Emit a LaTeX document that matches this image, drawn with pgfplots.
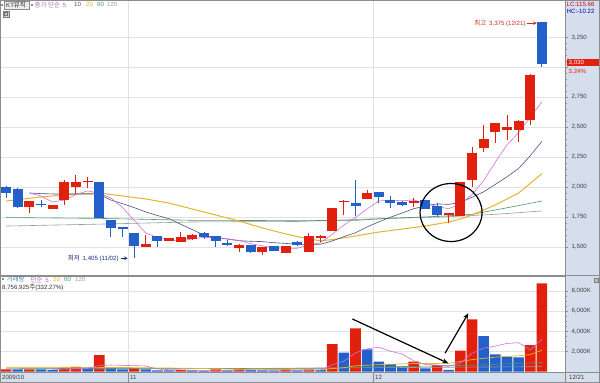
\documentclass[border=0pt]{standalone}
\usepackage{fontspec}
\setmainfont{Liberation Sans}
\newfontfamily\kr{Noto Sans CJK KR}
\usepackage{pgfplots}
\pgfplotsset{compat=1.18}
\usepackage{pgfplotstable}
\usetikzlibrary{arrows.meta}

\definecolor{cred}{HTML}{E2200E}
\definecolor{cblue}{HTML}{2360CC}
\definecolor{maA}{HTML}{D070D8}
\definecolor{maB}{HTML}{4A5088}
\definecolor{maC}{HTML}{E3B52A}
\definecolor{maD}{HTML}{4C9A6A}
\definecolor{maE}{HTML}{9A9A9A}
\definecolor{panel}{HTML}{D4DEEC}
\definecolor{gridc}{HTML}{E2E2E2}
\definecolor{frame}{HTML}{8C8C8C}
\definecolor{hitxt}{HTML}{C8301C}
\definecolor{lotxt}{HTML}{1C2A80}
\definecolor{teal}{HTML}{3F86A8}

\newcommand\tf{\fontsize{6.1}{7}\selectfont}
\newcommand\kf{\kr\fontsize{6.5}{7}\selectfont}

% candles: i open high low close
\pgfplotstableread{
i o h l c
2 1830 1886 1786 1886
4 1814 1850 1814 1850
5 1892 2060 1850 2044
6 2003 2100 1942 2044
7 2045 2086 1992 2052
12 1503 1600 1503 1525
14 1553 1572 1553 1572
15 1544 1627 1544 1586
16 1564 1610 1560 1597
20 1488 1520 1460 1518
22 1460 1496 1432 1496
24 1446 1505 1446 1505
26 1460 1619 1460 1591
27 1580 1600 1543 1591
28 1635 1822 1635 1822
29 1878 1892 1766 1886
31 1900 1975 1900 1947
35 1872 1905 1836 1880
38 1766 1780 1702 1780
39 1758 2044 1758 2044
40 2058 2337 1997 2281
41 2323 2518 2295 2398
42 2457 2537 2365 2537
43 2476 2601 2392 2498
44 2476 2560 2378 2554
45 2559 2940 2518 2935
}\redc

\pgfplotstableread{
i o h l c
0 2000 2005 1908 1950
1 1983 1990 1825 1830
3 1860 1890 1830 1852
8 2040 2045 1745 1745
9 1725 1725 1586 1656
10 1664 1664 1586 1647
11 1619 1619 1405 1508
13 1592 1592 1502 1553
17 1613 1625 1565 1585
18 1591 1591 1502 1552
19 1535 1555 1505 1520
21 1516 1516 1446 1460
23 1507 1507 1468 1468
25 1538 1549 1507 1518
30 1864 2058 1758 1841
32 1961 1961 1864 1919
33 1891 1925 1827 1864
34 1872 1880 1845 1852
36 1891 1891 1816 1816
37 1844 1864 1747 1766
46 3375 3375 3005 3030
}\bluec

\pgfplotsset{
  hts/.style={
    scale only axis, width=565pt,
    xmin=-0.515, xmax=47.98,
    axis line style={draw=frame, line width=0.6pt},
    ytick pos=right, yticklabel pos=right,
    tick align=outside, major tick length=3pt, minor tick length=1.5pt,
    tick style={draw=frame, line width=0.5pt},
    yticklabel style={font=\tf, text=black!75},
    /pgf/number format/1000 sep={,},
    /pgf/number format/assume math mode=true,
    scaled y ticks=false,
    xtick={10.5,31.5}, xticklabels={}, x tick style={draw=none},
    xmajorgrids, ymajorgrids,
    major grid style={draw=gridc, line width=0.6pt},
    clip=true,
  },
  wick/.style={draw=none, mark=none, error bars/.cd, y dir=both, y explicit,
    error mark=none, error bar style={draw=#1, line width=0.9pt}},
  body/.style={draw=none, mark=none, error bars/.cd, y dir=both, y explicit,
    error mark=none, error bar style={draw=#1, line width=10pt}},
}

\begin{document}
\begin{tikzpicture}
\useasboundingbox (0pt,0pt) rectangle (600pt,-383pt);
\fill[white] (0pt,0pt) rectangle (600pt,-383pt);
\fill[panel] (565pt,0pt) rectangle (600pt,-383pt);
\fill[panel] (0pt,-372.5pt) rectangle (565pt,-383pt);

% ---------------- price panel ----------------
\begin{axis}[hts, at={(0pt,0pt)}, anchor=north west, height=275pt,
  ymin=1265.2, ymax=3561.5, ytick={1500,1750,...,3250}, minor y tick num=4,
  yticklabel={\ifdim\tick pt=3000pt\relax\else\pgfmathprintnumber{\tick}\fi}]

\addplot[maE, line width=0.6pt] coordinates {(0,1674) (8,1690) (16,1708) (25,1712) (32,1735) (38,1752) (42,1772) (46,1800)};
\addplot[maD, line width=0.6pt] coordinates {(0,1745) (8,1738) (16,1722) (25,1719) (30,1722) (33,1740) (36,1750) (38,1760) (40,1772) (42,1808) (44,1845) (46,1883)};
\addplot[maC, line width=1pt] coordinates {(0,1883) (3,1917) (6,1942) (8,1950) (10,1925) (12,1900) (14,1866) (16,1816) (18,1766) (20,1716) (22,1658) (24,1608) (26,1565) (27,1552) (28,1560) (30,1591) (32,1624) (34,1649) (36,1674) (38,1708) (39,1733) (40,1766) (42,1850) (44,1950) (46,2112)};
\addplot[maB, line width=0.6pt] coordinates {(2,1950) (3,1945) (4,1942) (5,1942) (6,1942) (7,1942) (8,1940) (9,1891) (10,1861) (11,1828) (12,1792) (13,1762) (14,1735) (15,1689) (16,1644) (17,1597) (18,1578) (19,1565) (20,1552) (21,1547) (22,1544) (23,1535) (24,1529) (25,1522) (26,1521) (27,1522) (28,1549) (29,1586) (30,1618) (31,1667) (32,1709) (33,1748) (34,1783) (35,1819) (36,1842) (37,1859) (38,1855) (39,1871) (40,1915) (41,1960) (42,2022) (43,2085) (44,2155) (45,2261) (46,2382)};
\addplot[maA, line width=0.6pt] coordinates {(2,1950) (3,1925) (4,1874) (5,1892) (6,1935) (7,1968) (8,1947) (9,1908) (10,1829) (11,1722) (12,1616) (13,1578) (14,1561) (15,1549) (16,1567) (17,1579) (18,1578) (19,1568) (20,1554) (21,1527) (22,1509) (23,1492) (24,1489) (25,1489) (26,1516) (27,1535) (28,1605) (29,1682) (30,1746) (31,1817) (32,1883) (33,1891) (34,1885) (35,1892) (36,1866) (37,1836) (38,1819) (39,1857) (40,1937) (41,2054) (42,2208) (43,2352) (44,2454) (45,2584) (46,2711)};

% wicks
\addplot[wick=cred] table[x=i, y expr={(\thisrow{h}+\thisrow{l})/2}, y error expr={max((\thisrow{h}-\thisrow{l})/2,1)}] {\redc};
\addplot[wick=cblue] table[x=i, y expr={(\thisrow{h}+\thisrow{l})/2}, y error expr={max((\thisrow{h}-\thisrow{l})/2,1)}] {\bluec};
% bodies
\addplot[body=cred] table[x=i, y expr={(\thisrow{o}+\thisrow{c})/2}, y error expr={max(abs(\thisrow{c}-\thisrow{o})/2,5)}] {\redc};
\addplot[body=cblue] table[x=i, y expr={(\thisrow{o}+\thisrow{c})/2}, y error expr={max(abs(\thisrow{c}-\thisrow{o})/2,5)}] {\bluec};

% annotations
\draw[black, line width=1.2pt] (axis cs:38.2,1787) ellipse [x radius=31pt, y radius=29pt];
\coordinate (hiTip) at (axis cs:45.55,3368);
\draw[hitxt, line width=0.7pt, -{Stealth[length=3.5pt,width=3.5pt]}] ([xshift=-10pt]hiTip) -- (hiTip);
\node[anchor=east, inner sep=0pt, text=hitxt] at ([xshift=-11pt]hiTip) {{\kf 최고} {\tf 3,375 (12/21)}};
\coordinate (loTip) at (axis cs:10.45,1405);
\draw[lotxt, line width=0.7pt, -{Stealth[length=3.5pt,width=3.5pt]}] ([xshift=-7pt]loTip) -- (loTip);
\node[anchor=east, inner sep=0pt, text=lotxt] at ([xshift=-9pt]loTip) {{\kf 최저} {\tf 1,405 (11/02)}};
\end{axis}

% ---------------- volume panel ----------------
\begin{axis}[hts, at={(0pt,-276.5pt)}, anchor=north west, height=96pt,
  ymin=-99, ymax=9443, ytick={2000,4000,6000,8000}, minor y tick num=3,
  yticklabel={\pgfmathprintnumber{\tick}K}]
\addplot[ybar, bar width=10.6pt, bar shift=0pt, fill=cred, draw=none] coordinates {(0,220) (2,220) (5,375) (6,470) (8,1630) (11,300) (15,130) (18,220) (20,220) (24,220) (26,220) (28,2733) (30,4294) (35,974) (37,646) (39,2067) (40,5188) (45,2634) (46,8757)};
\addplot[ybar, bar width=10.6pt, bar shift=0pt, fill=cblue, draw=none] coordinates {(1,220) (3,220) (4,150) (7,375) (9,375) (10,220) (12,220) (13,100) (14,100) (16,110) (17,90) (19,120) (21,150) (22,100) (23,90) (25,100) (27,150) (29,1869) (31,2207) (32,974) (33,745) (34,477) (36,318) (38,150) (41,3528) (42,1710) (43,1471) (44,1411)};

\addplot[maE, line width=0.6pt] coordinates {(0,260) (20,300) (32,380) (46,480)};
\addplot[maD, line width=0.6pt] coordinates {(0,330) (20,300) (28,330) (32,450) (40,620) (46,900)};
\addplot[maC, line width=0.7pt] coordinates {(0,420) (5,420) (10,400) (15,330) (20,240) (25,170) (27,160) (28,290) (29,380) (30,567) (32,680) (35,793) (38,810) (40,1179) (42,1429) (44,1561) (45,1687) (46,2115)};
\addplot[maA, line width=0.6pt] coordinates {(4,206) (5,237) (6,287) (7,318) (8,600) (9,645) (10,614) (11,580) (12,549) (13,243) (14,188) (15,170) (16,132) (17,106) (18,116) (19,120) (20,130) (21,138) (22,140) (23,122) (24,134) (25,118) (26,128) (27,138) (28,667) (29,1010) (30,1849) (31,2251) (32,2415) (33,2018) (34,1739) (35,1063) (36,698) (37,632) (38,513) (39,831) (40,1810) (41,2316) (42,2529) (43,2793) (44,2862) (45,2151) (46,3206)};

\draw[black, line width=1.2pt, -{Stealth[length=6pt,width=5pt]}] (axis cs:29.73,5219) -- (axis cs:37.97,815);
\draw[black, line width=1.2pt, -{Stealth[length=6pt,width=5pt]}] (axis cs:37.68,1809) -- (axis cs:39.68,5785);
\end{axis}

% ---------------- frame ----------------
\draw[frame, line width=1pt] (0.5pt,-0.5pt) rectangle (599.5pt,-382.5pt);
\draw[frame, line width=1.2pt] (0pt,-275.8pt) -- (600pt,-275.8pt);
\draw[frame, line width=0.6pt] (565pt,0pt) -- (565pt,-383pt);
\draw[frame, line width=0.6pt] (0pt,-372.5pt) -- (600pt,-372.5pt);
\draw[frame, line width=0.5pt] (128pt,-372.5pt) -- (128pt,-383pt);
\draw[frame, line width=0.5pt] (373pt,-372.5pt) -- (373pt,-383pt);

% price header
\fill[black!45] (1.2pt,-3.5pt) rectangle (3.4pt,-5.7pt);
\draw[black!45, fill=black!8] (4.5pt,-0.8pt) rectangle (29.5pt,-8.8pt);
\node[anchor=west, inner sep=0pt, text=black!80] at (6pt,-4.8pt) {\tf KT{\kf 뮤직}};
\fill[black!45] (31pt,-3.5pt) rectangle (33.2pt,-5.7pt);
\node[anchor=west, inner sep=0pt, text=maA!90!black] at (34.5pt,-4.8pt) {{\kf 종가 단순} \tf 5};
\node[anchor=west, inner sep=0pt, text=maB] at (74pt,-4.8pt) {\tf 10};
\node[anchor=west, inner sep=0pt, text=maC] at (86pt,-4.8pt) {\tf 20};
\node[anchor=west, inner sep=0pt, text=maD] at (97pt,-4.8pt) {\tf 60};
\node[anchor=west, inner sep=0pt, text=maE] at (107pt,-4.8pt) {\tf 120};
\draw[black!50, fill=black!20] (3pt,-11pt) rectangle (9pt,-17pt);
\draw[black!55] (4.5pt,-12.5pt) rectangle (7.5pt,-15.5pt);

% volume header
\fill[black!45] (2pt,-278pt) rectangle (4.2pt,-280.2pt);
\node[anchor=west, inner sep=0pt, text=teal] at (6.5pt,-279.5pt) {\kf 거래량};
\node[anchor=west, inner sep=0pt, text=maA!90!black] at (30.5pt,-279.5pt) {{\kf 단순} \tf 5};
\node[anchor=west, inner sep=0pt, text=maC] at (53pt,-279.5pt) {\tf 20};
\node[anchor=west, inner sep=0pt, text=maD] at (64pt,-279.5pt) {\tf 60};
\node[anchor=west, inner sep=0pt, text=maE] at (75pt,-279.5pt) {\tf 120};
\node[anchor=west, inner sep=0pt, text=black!80] at (2pt,-287.2pt) {\tf 8,756,925{\kf 주}(332.27\%)};
\draw[black!50, fill=black!25] (594pt,-278pt) rectangle (598pt,-282pt);

% right column texts
\node[anchor=west, inner sep=0pt, text=red!80!black] at (566.5pt,-4.5pt) {\tf LC:115.66};
\node[anchor=west, inner sep=0pt, text=blue!70!black] at (566.5pt,-11pt) {\tf HC:-10.22};
\fill[cred] (566.5pt,-59pt) rectangle (598.5pt,-66pt);
\node[anchor=west, inner sep=0pt, text=white] at (568.5pt,-62.3pt) {\tf 3,030};
\node[anchor=west, inner sep=0pt, text=cred] at (568.5pt,-71.3pt) {\tf 3.24\%};

% date strip
\node[anchor=west, inner sep=0pt, text=black!75] at (2pt,-377.8pt) {\tf 2009/10};
\node[anchor=west, inner sep=0pt, text=black!75] at (130pt,-377.8pt) {\tf 11};
\node[anchor=west, inner sep=0pt, text=black!75] at (375pt,-377.8pt) {\tf 12};
\node[anchor=west, inner sep=0pt, text=black!75] at (569pt,-377.8pt) {\tf 12/21};
\end{tikzpicture}
\end{document}
